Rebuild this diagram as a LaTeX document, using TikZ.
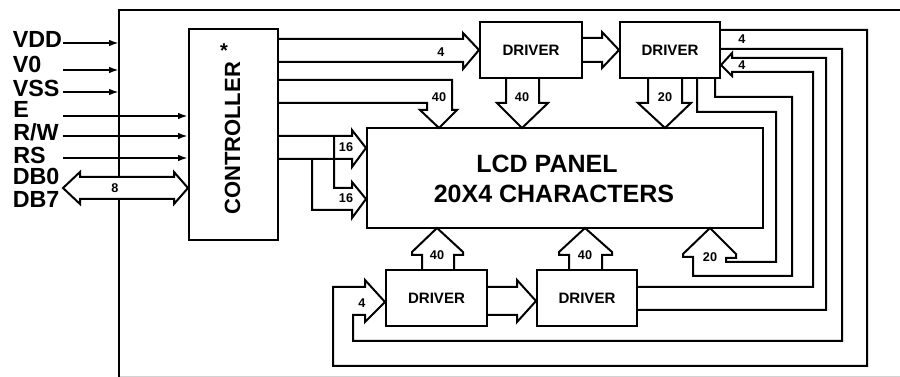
\documentclass[tikz,border=0pt]{standalone}
\usepackage{fontspec}
\setmainfont{Liberation Sans}
\usetikzlibrary{arrows.meta}
\begin{document}
\begin{tikzpicture}[x=0.75pt,y=-0.75pt,
  bus/.style={line width=1.5pt, line join=miter, miter limit=10},
  sig/.style={line width=1.5pt, -{Latex[length=7.5pt,width=5pt]}},
  box/.style={draw, line width=1.5pt, inner sep=0pt},
  lbl/.style={font=\fontsize{17.5}{17.5}\selectfont\bfseries, anchor=base west, inner sep=0pt},
  num/.style={font=\fontsize{9.5}{10}\selectfont\bfseries, inner sep=0pt},
  drvtxt/.style={font=\fontsize{11.3}{12}\selectfont\bfseries},
  bigtxt/.style={font=\fontsize{18.75}{20}\selectfont\bfseries, anchor=base, inner sep=0pt}]
\useasboundingbox (0,0) rectangle (900,377);

% outer frame
\draw[line width=1.2pt] (119,377) -- (119,10) -- (900,10);
\draw[gray!35, line width=0.6pt] (120,376) -- (900,376);

% boxes
\node[box, minimum width=66.75pt, minimum height=158.25pt] (ctrl) at (233.5,134.5) {};
\node[box, minimum width=76.5pt, minimum height=42pt, drvtxt] (drvA) at (531,50) {DRIVER};
\node[box, minimum width=75pt, minimum height=42pt, drvtxt] (drvB) at (670,50) {DRIVER};
\node[box, minimum width=297pt, minimum height=75pt] (lcd) at (565,178) {};
\node[box, minimum width=75.75pt, minimum height=42pt, drvtxt] (drvC) at (436.5,298) {DRIVER};
\node[box, minimum width=75pt, minimum height=42pt, drvtxt] (drvD) at (587,298) {DRIVER};

\node[rotate=90, inner sep=0pt, font=\fontsize{16.5}{17}\selectfont\bfseries] (ctrltxt) at (232.5,138.5) {CONTROLLER};
\node[inner sep=0pt, font=\fontsize{15}{15}\selectfont\bfseries] (star) at (224,51) {*};
\node[bigtxt] (lcdt1) at (547,173) {LCD PANEL};
\node[bigtxt] (lcdt2) at (554,203) {20X4 CHARACTERS};

% left labels
\node[lbl] (vdd) at (12.5,48) {VDD};
\node[lbl] (vo) at (12.5,73) {V0};
\node[lbl] (vss) at (12.5,97) {VSS};
\node[lbl] (le) at (13,118) {E};
\node[lbl] (lrw) at (13,141) {R/W};
\node[lbl] (lrs) at (13,164) {RS};
\node[lbl] (db0) at (12.5,185) {DB0};
\node[lbl] (db7) at (12.5,208) {DB7};

% power arrows into frame
\coordinate (fvdd) at (119,43);
\coordinate (fvo) at (119,70);
\coordinate (fvss) at (119,92);
\draw[sig] (63,43) -- (fvdd);
\draw[sig] (63,70) -- (fvo);
\draw[sig] (63,92) -- (fvss);
% control arrows
\draw[sig] (63,116) -- (ctrl.west |- 0,116);
\draw[sig] (63,136) -- (ctrl.west |- 0,136);
\draw[sig] (63,158) -- (ctrl.west |- 0,158);
% data bus
\draw[bus, fill=white] (80,177) -- (174,177) -- (174,172) -- (ctrl.west |- 0,188) -- (174,204) -- (174,199)
  -- (80,199) -- (80,204) -- (63,188) -- (80,172) -- cycle;
\node[num] (n8) at (115,188) {8};

% controller -> top driver A
\draw[bus] (ctrl.east |- 0,39) -- (463,39) -- (463,33) -- (drvA.west) -- (463,69) -- (463,62) -- (ctrl.east |- 0,62);
\node[num] (n4a) at (441,52) {4};
% controller -> LCD (40)
\draw[bus] (ctrl.east |- 0,80) -- (452,80) -- (452,110) -- (457,110) -- (439,128) -- (420,110) -- (427,110)
  -- (427,103) -- (ctrl.east |- 0,103);
\node[num] (n40a) at (439,97) {40};
% driver A -> LCD (40)
\draw[bus] (506,78) -- (506,103) -- (497,103) -- (522,128) -- (548,103) -- (539,103) -- (539,78);
\node[num] (n40b) at (522,97) {40};
% driver B -> LCD (20)
\draw[bus] (648,78) -- (648,103) -- (638,103) -- (665,128) -- (691,103) -- (682,103) -- (682,78);
\node[num] (n20a) at (665,97) {20};
% driver A -> driver B
\draw[bus] (drvA.east |- 0,38) -- (602,38) -- (602,32) -- (drvB.west) -- (602,68) -- (602,62) -- (drvA.east |- 0,62);

% controller -> LCD left (16, 16)
\draw[bus] (ctrl.east |- 0,136) -- (352,136) -- (352,130) -- (lcd.west |- 0,148) -- (352,167) -- (352,159) -- (ctrl.east |- 0,159);
\draw[bus] (334,136) -- (334,188) -- (352,188) -- (352,182) -- (lcd.west |- 0,199) -- (352,218) -- (352,210) -- (312,210) -- (312,159);
\node[num] (n16a) at (346,147) {16};
\node[num] (n16b) at (346,198) {16};

% driver B -> driver C loop (outer)
\draw[bus] (drvB.east |- 0,30) -- (867,30) -- (867,366) -- (333,366) -- (333,287) -- (365,287) -- (365,280)
  -- (drvC.west |- 0,302) -- (365,322) -- (365,315) -- (353,315) -- (353,341) -- (842,341) -- (842,49) -- (drvB.east |- 0,49);
\node[num] (n4b) at (742,39) {4};
\node[num] (n4c) at (362,303) {4};
% driver D -> driver B
\draw[bus] (drvD.east |- 0,287) -- (813,287) -- (813,72) -- (732,72) -- (732,76) -- (drvB.east |- 0,65) -- (732,53)
  -- (732,58) -- (826,58) -- (826,310) -- (drvD.east |- 0,310);
\node[num] (n4d) at (742,65) {4};
% driver B -> LCD bottom (20)
\draw[bus] (697,78) -- (697,112) -- (776,112) -- (776,262) -- (726,262) -- (726,258) -- (736,258) -- (736,254)
  -- (710,228) -- (683,254) -- (683,257) -- (693,257) -- (693,276) -- (792,276) -- (792,97) -- (715,97) -- (715,78);
\node[num] (n20b) at (710,257) {20};

% driver C -> driver D
\draw[bus] (drvC.east |- 0,287) -- (517,287) -- (517,280) -- (drvD.west |- 0,301) -- (517,322) -- (517,315) -- (drvC.east |- 0,315);
% bottom drivers -> LCD (40, 40)
\draw[bus] (422,270) -- (422,255) -- (412,255) -- (412,252) -- (437,228) -- (463,252) -- (463,255) -- (454,255) -- (454,270);
\node[num] (n40c) at (437,255) {40};
\draw[bus] (569,270) -- (569,255) -- (559,255) -- (559,252) -- (585,228) -- (612,252) -- (612,255) -- (602,255) -- (602,270);
\node[num] (n40d) at (585,255) {40};
\end{tikzpicture}
\end{document}
